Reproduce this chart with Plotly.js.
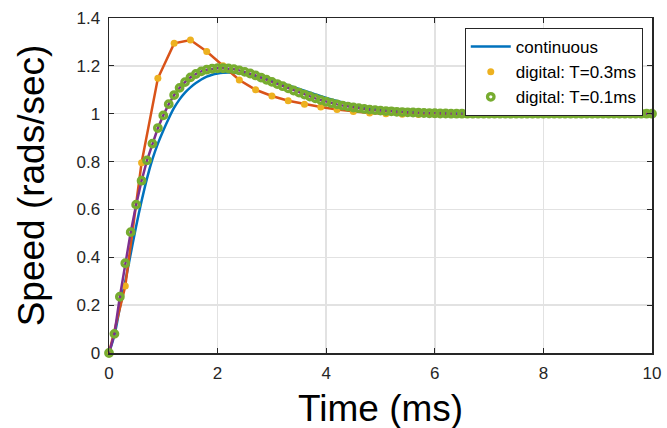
<!DOCTYPE html>
<html>
<head>
<meta charset="utf-8">
<script src="https://cdn.plot.ly/plotly-3.0.1.min.js"></script>
<style>html,body{margin:0;padding:0;background:#fff;}#chart{width:667px;height:428px;}</style>
</head>
<body>
<div id="chart"></div>
<script>
// continuous response
const tCont = [0,0.1,0.2,0.3,0.4,0.5,0.6,0.7,0.8,0.9,1.0,1.1,1.2,1.3,1.4,1.5,1.6,1.7,1.8,1.9,2.0,2.1,2.2,2.3,2.4,2.5,2.6,2.7,2.8,2.9,3.0,
  3.25,3.5,3.75,4.0,4.25,4.5,4.75,5.0,5.25,5.5,5.75,6.0,6.5,7,8,9,10];
const yCont = [0,0.075,0.19,0.30,0.415,0.53,0.635,0.73,0.81,0.875,0.93,0.98,1.025,1.06,1.088,1.11,1.128,1.143,1.155,1.163,1.168,1.171,1.172,1.171,1.169,1.166,1.162,1.157,1.151,1.146,1.14,
  1.122,1.104,1.085,1.066,1.05,1.036,1.025,1.017,1.011,1.007,1.004,1.002,1.001,1.0,1.0,1.0,1.0];

// digital, T = 0.3 ms
const tD3 = [0,0.3,0.6,0.9,1.2,1.5,1.8,2.1,2.4,2.7,3.0,3.3,3.6,3.9,4.2,4.5,4.8,5.1,5.4,5.7,6.0,6.3,6.6,6.9,7.2,7.5,7.8,8.1,8.4,8.7,9.0,9.3,9.6,9.9];
const yD3 = [0,0.28,0.795,1.148,1.294,1.308,1.26,1.2,1.141,1.1,1.074,1.054,1.04,1.028,1.018,1.009,1.003,1.0,0.998,0.997,0.997,0.998,0.998,0.999,0.999,1.0,1.0,1.0,1.0,1.0,1.0,1.0,1.0,1.0];

// digital, T = 0.1 ms
const tD1 = [0,0.1,0.2,0.3,0.4,0.5,0.6,0.7,0.8,0.9,1.0,1.1,1.2,1.3,1.4,1.5,1.6,1.7,1.8,1.9,
  2.0,2.1,2.2,2.3,2.4,2.5,2.6,2.7,2.8,2.9,3.0,3.1,3.2,3.3,3.4,3.5,3.6,3.7,3.8,3.9,
  4.0,4.1,4.2,4.3,4.4,4.5,4.6,4.7,4.8,4.9,5.0,5.1,5.2,5.3,5.4,5.5,5.6,5.7,5.8,5.9,
  6.0,6.1,6.2,6.3,6.4,6.5,6.6,6.7,6.8,6.9,7.0,7.1,7.2,7.3,7.4,7.5,7.6,7.7,7.8,7.9,
  8.0,8.1,8.2,8.3,8.4,8.5,8.6,8.7,8.8,8.9,9.0,9.1,9.2,9.3,9.4,9.5,9.6,9.7,9.8,9.9,10.0];
const yD1 = [0,0.08,0.235,0.375,0.505,0.62,0.72,0.805,0.875,0.94,0.993,1.04,1.078,1.108,1.132,1.152,1.166,1.177,1.184,1.188,
  1.19,1.19,1.189,1.186,1.181,1.175,1.168,1.16,1.151,1.142,1.133,1.124,1.115,1.106,1.097,1.088,1.08,1.072,1.064,1.057,
  1.05,1.044,1.039,1.034,1.03,1.026,1.023,1.02,1.017,1.015,1.013,1.011,1.01,1.008,1.007,1.006,1.005,1.004,1.003,1.002,
  1.002,1.001,1.001,1.0,1.0,1.0,1.0,1.0,1.0,1.0,1.0,1.0,1.0,1.0,1.0,1.0,1.0,1.0,1.0,1.0,
  1.0,1.0,1.0,1.0,1.0,1.0,1.0,1.0,1.0,1.0,1.0,1.0,1.0,1.0,1.0,1.0,1.0,1.0,1.0,1.0,1.0];

const xTicks = [0,2,4,6,8,10];
const yTicks = [0,0.2,0.4,0.6,0.8,1,1.2,1.4];
const legendNames = ['continuous','digital: T=0.3ms','digital: T=0.1ms'];
const xTitle = 'Time (ms)';
const yTitle = 'Speed (rads/sec)';

const FONT = 'Liberation Sans, Arial, Helvetica, sans-serif';
const AX = '#262626';

const traces = [
  {x: tCont, y: yCont, mode: 'lines', name: legendNames[0], line: {color: '#0072BD', width: 2.5, shape: 'spline'}, cliponaxis: false},
  {x: tD3, y: yD3, mode: 'lines', showlegend: false, line: {color: '#D95319', width: 2.5}, cliponaxis: false},
  {x: tD3, y: yD3, mode: 'markers', name: legendNames[1], marker: {color: '#EDB120', size: 7}, cliponaxis: false},
  {x: tD1, y: yD1, mode: 'lines', showlegend: false, line: {color: '#7E2F8E', width: 2.5}, cliponaxis: false},
  {x: tD1, y: yD1, mode: 'markers', name: legendNames[2], marker: {symbol: 'circle-open', color: '#77AC30', size: 6.5, line: {width: 3.3, color: '#77AC30'}}, cliponaxis: false}
];

const axisCommon = {
  showline: true, mirror: 'ticks', linecolor: AX, linewidth: 1.5,
  ticks: 'inside', ticklen: 5, tickwidth: 1.2, tickcolor: AX,
  showgrid: true, gridcolor: '#e2e2e2', gridwidth: 1.5,
  zeroline: false, automargin: false,
  tickfont: {family: FONT, size: 17, color: AX}
};

const layout = {
  width: 667, height: 428,
  margin: {l: 109, r: 15, t: 18, b: 75},
  paper_bgcolor: '#fff', plot_bgcolor: '#fff',
  font: {family: FONT, color: AX},
  showlegend: true,
  xaxis: Object.assign({}, axisCommon, {
    range: [0, 10], tickvals: xTicks, ticklabelstandoff: 4
  }),
  yaxis: Object.assign({}, axisCommon, {
    range: [0, 1.4], tickvals: yTicks, ticklabelstandoff: 4,
    title: {text: yTitle, font: {family: FONT, size: 37, color: '#000'}, standoff: 20}
  }),
  annotations: [{
    text: xTitle, xref: 'paper', yref: 'paper', x: 0.5, y: -0.099,
    xanchor: 'center', yanchor: 'top', showarrow: false,
    font: {family: FONT, size: 37, color: '#000'}
  }],
  legend: {
    x: 0.983, xanchor: 'right', y: 0.970, yanchor: 'top',
    bgcolor: '#fff', bordercolor: AX, borderwidth: 1,
    font: {family: FONT, size: 17, color: '#000'},
    itemwidth: 40, tracegroupgap: 0
  }
};

Plotly.newPlot('chart', traces, layout, {staticPlot: true, displayModeBar: false});
</script>
</body>
</html>
